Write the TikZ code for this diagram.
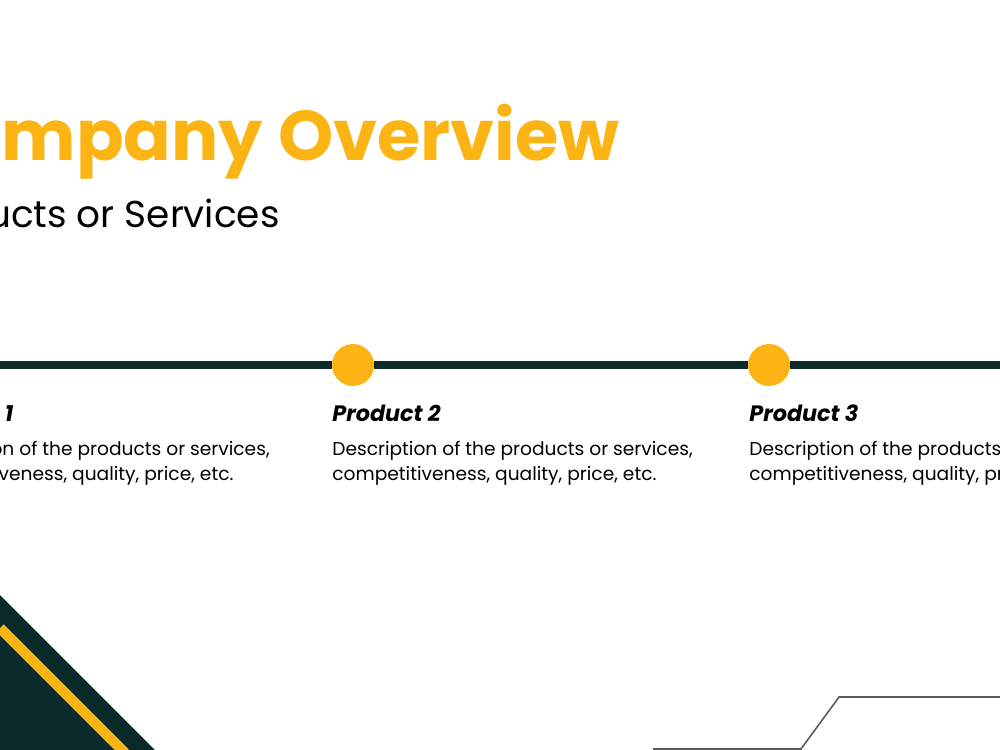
\documentclass[tikz,border=0pt]{standalone}
\usepackage{fontspec}
\setmainfont{Poppins}
\usetikzlibrary{positioning}
\definecolor{brandyellow}{HTML}{FCB415}
\definecolor{brandteal}{HTML}{0C2A2A}
\definecolor{edgegray}{HTML}{5A5A5A}
\tikzset{
  headline/.style={font=\fontsize{40}{46}\selectfont\bfseries, text=brandyellow, inner sep=0pt, anchor=base east},
  subhead/.style={font=\fontsize{21.3}{26}\selectfont, text=black, inner sep=0pt, anchor=base east},
  prodtitle/.style={font=\fontsize{12.7}{15}\selectfont\bfseries\itshape, inner sep=0pt, anchor=base west},
  proddesc/.style={font=\fontsize{10.6}{14.2}\selectfont, align=left, inner sep=0pt, anchor=north west},
  dot/.style={circle, fill=brandyellow, minimum size=8.4mm, inner sep=0pt},
  timeline/.style={draw=brandteal, line width=5pt},
  edgeline/.style={draw=edgegray, line width=0.9pt}
}

\begin{document}
\begin{tikzpicture}[x=0.02cm, y=-0.02cm]
\useasboundingbox (0,0) rectangle (1000,750);
\clip (0,0) rectangle (1000,750);
\fill[white] (0,0) rectangle (1000,750);
% heading
\node[headline] (title) at (620,160) {Company Overview};
\node[subhead] (subtitle) at (280,227) {Products or Services};
% timeline
\coordinate (tl-l) at (0,365);
\coordinate (tl-r) at (1000,365);
\node[dot] (dot2) at (353,365) {};
\node[dot] (dot3) at (769,365) {};
\draw[timeline] (tl-l) -- (dot2) -- (dot3) -- (tl-r);
% products
\node[prodtitle] (prod1) at (-91,421) {Product 1};
\node[proddesc, below=3.9mm of prod1.base west, anchor=north west] (desc1) {Description of the products or services,\\competitiveness, quality, price, etc.};
\node[prodtitle] (prod2) at (332,421) {Product 2};
\node[proddesc, below=3.9mm of prod2.base west, anchor=north west] (desc2) {Description of the products or services,\\competitiveness, quality, price, etc.};
\node[prodtitle] (prod3) at (749,421) {Product 3};
\node[proddesc, below=3.9mm of prod3.base west, anchor=north west] (desc3) {Description of the products or services,\\competitiveness, quality, price, etc.};
% corner decorations
\fill[brandteal] (0,595) -- (155,750) -- (0,750) -- cycle;
\draw[brandyellow, line width=6pt] (0,628) -- (125,753);
\draw[edgeline] (653,749) -- (801,749) -- (839,697) -- (1005,697);
\end{tikzpicture}
\end{document}
